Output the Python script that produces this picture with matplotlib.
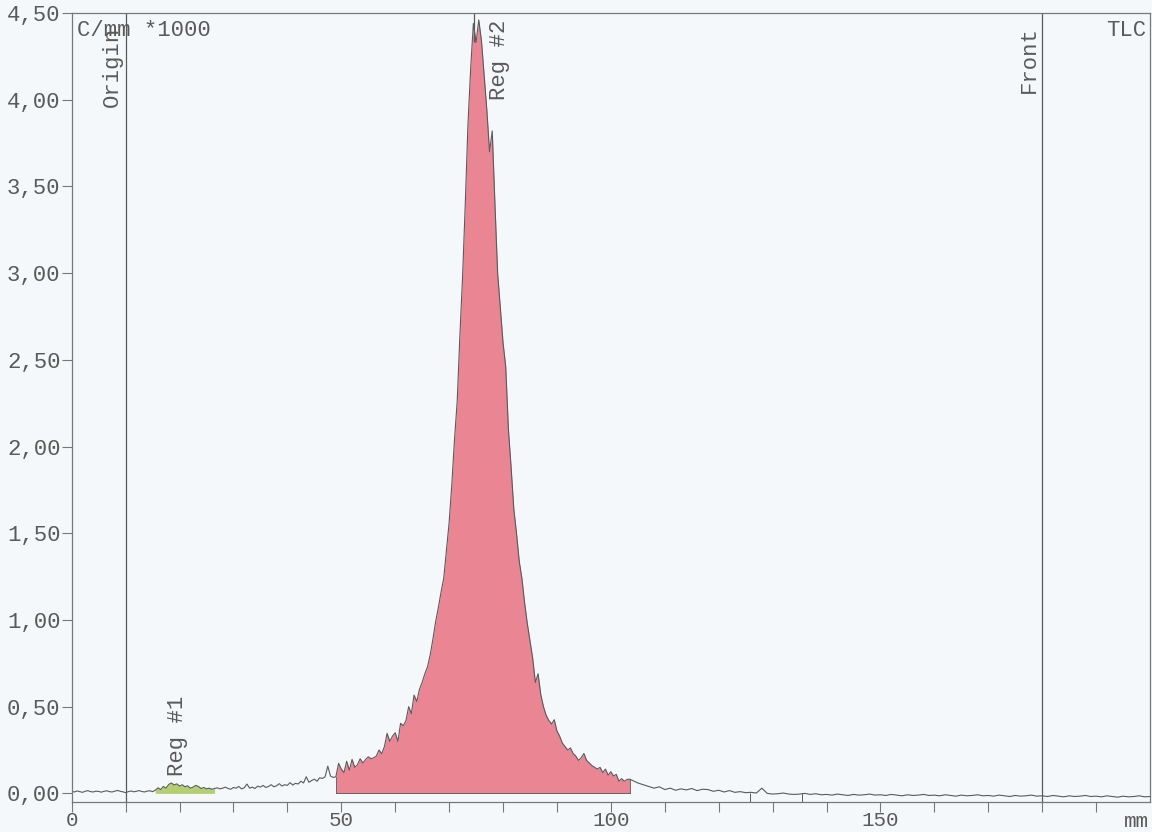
#!/usr/bin/env python3
"""
TLC radio-chromatogram scan: counts per mm along the plate, with two integrated
regions (Reg #1 near the origin, Reg #2 the main peak).
"""

import numpy as np
import matplotlib
matplotlib.use('Agg')
import matplotlib.pyplot as plt
from matplotlib.ticker import FuncFormatter, MultipleLocator, FixedLocator

# --- data (C/mm * 1000) ------------------------------------------------------
# segment 1: 0.0 .. 48.5 mm, 0.5 mm steps
seg1_start, seg1_step = 0.0, 0.5
seg1_vals = [
    0.012, 0.008, 0.014, 0.010, 0.006, 0.012, 0.016, 0.010, 0.008, 0.013,
    0.011, 0.007, 0.012, 0.015, 0.010, 0.008, 0.013, 0.017, 0.012, 0.009,
    0.004, 0.010, 0.014, 0.009, 0.012, 0.016, 0.011, 0.008, 0.013, 0.015,
    0.010,
    0.018, 0.032, 0.022, 0.040, 0.030, 0.052, 0.060, 0.048, 0.055, 0.042,
    0.050, 0.038, 0.044, 0.030, 0.036, 0.046, 0.040, 0.028, 0.034, 0.026,
    0.030, 0.024, 0.028,
    0.032, 0.026, 0.030, 0.036, 0.028, 0.024, 0.034, 0.030, 0.040, 0.026,
    0.032, 0.054, 0.030, 0.036, 0.028, 0.042, 0.036, 0.046, 0.034, 0.040,
    0.050, 0.038, 0.044, 0.056, 0.042, 0.050, 0.046, 0.062, 0.048, 0.058,
    0.054, 0.070, 0.060, 0.096, 0.064, 0.074, 0.082, 0.070, 0.090, 0.086,
    0.096, 0.157, 0.100, 0.092,
]

# segment 2: 49.0 .. 103.5 mm, 0.5 mm steps (main peak)
seg2_start, seg2_step = 49.0, 0.5
seg2_vals = [
    0.096, 0.173, 0.140, 0.120, 0.185, 0.134, 0.196, 0.150, 0.165, 0.200,
    0.175, 0.195, 0.211, 0.200, 0.205, 0.215, 0.250, 0.228, 0.270, 0.346,
    0.300, 0.330, 0.350, 0.300, 0.404, 0.390, 0.420, 0.500, 0.460, 0.567,
    0.530, 0.600, 0.640, 0.690, 0.730, 0.800, 0.890, 0.990, 1.070, 1.160,
    1.240, 1.400, 1.560, 1.780, 2.040, 2.260, 2.640, 2.980, 3.400, 3.860,
    4.180, 4.440, 4.330, 4.460, 4.340, 4.140, 3.940, 3.700, 3.820, 3.400,
    3.000, 2.800, 2.600, 2.460, 2.100, 1.880, 1.640, 1.500, 1.340, 1.240,
    1.100, 0.980, 0.880, 0.780, 0.640, 0.690, 0.570, 0.500, 0.450, 0.420,
    0.400, 0.425, 0.360, 0.330, 0.290, 0.270, 0.250, 0.262, 0.230, 0.215,
    0.190, 0.205, 0.230, 0.190, 0.175, 0.160, 0.150, 0.140, 0.150, 0.120,
    0.140, 0.105, 0.125, 0.100, 0.110, 0.070, 0.085, 0.070, 0.080, 0.082,
]

# segment 3: 104 .. 200 mm, 1 mm steps
seg3_start, seg3_step = 104.0, 1.0
seg3_vals = [
    0.075, 0.060, 0.050, 0.040, 0.030, 0.038, 0.022, 0.030, 0.018, 0.026,
    0.020, 0.028, 0.016, 0.024, 0.022, 0.012, 0.018, 0.008, 0.016, 0.006,
    0.010, 0.004, 0.006, 0.002, 0.030, 0.000, -0.004, -0.002, 0.002, -0.004,
    -0.006, -0.004, 0.000, -0.006, -0.002, -0.008,
    -0.006, -0.010, -0.004, -0.008, -0.012, -0.006, -0.010, -0.008, -0.004, -0.010,
    -0.008, -0.012, -0.006, -0.010, -0.014, -0.008, -0.012, -0.010, -0.006, -0.012,
    -0.010, -0.014, -0.008, -0.012, -0.016, -0.010, -0.014, -0.012, -0.008, -0.014,
    -0.012, -0.016, -0.010, -0.014, -0.018, -0.012, -0.016, -0.014, -0.010, -0.016,
    -0.014, -0.018, -0.012, -0.016, -0.020, -0.014, -0.018, -0.016, -0.012, -0.018,
    -0.016, -0.020, -0.014, -0.018, -0.022, -0.016, -0.020, -0.018, -0.014, -0.020,
    -0.018,
]

regions = {'Reg #1': (15.5, 26.5), 'Reg #2': (49.0, 103.5)}
origin_mm = 10.0
front_mm = 180.0
peak_mark_mm = 74.7
small_marks_mm = [125.8, 135.4]

x_ticks_major = [0, 50, 100, 150]
x_ticks_minor = [10, 20, 30, 40, 60, 70, 80, 90, 110, 120, 130, 140,
                 160, 170, 180, 190]


def build_trace():
    xs, ys = [], []
    for start, step, vals in [(seg1_start, seg1_step, seg1_vals),
                              (seg2_start, seg2_step, seg2_vals),
                              (seg3_start, seg3_step, seg3_vals)]:
        xs.append(start + step * np.arange(len(vals)))
        ys.append(np.array(vals))
    return np.concatenate(xs), np.concatenate(ys)


def main():
    x, y = build_trace()

    ink = '#5a5a5a'
    paper = '#f5f8fa'
    mono = ['Liberation Mono', 'DejaVu Sans Mono']

    fig = plt.figure(figsize=(11.52, 8.32), dpi=100, facecolor=paper)
    ax = fig.add_axes([71.7 / 1152, 1 - 801.7 / 832,
                       (1150 - 71.7) / 1152, (801.7 - 13) / 832])
    ax.set_facecolor(paper)

    # region fills
    lo, hi = regions['Reg #1']
    m = (x >= lo) & (x <= hi)
    ax.fill_between(x[m], 0, y[m], color='#b3cf72', lw=0)
    lo, hi = regions['Reg #2']
    m = (x >= lo) & (x <= hi)
    ax.fill_between(x[m], 0, y[m], color='#ea8594', lw=0)
    ax.plot([lo, hi], [0, 0], color=ink, lw=0.6)
    ax.plot([lo, lo], [0, y[m][0]], color=ink, lw=0.6)
    ax.plot([hi, hi], [0, y[m][-1]], color=ink, lw=0.6)

    ax.plot(x, y, color=ink, lw=0.8)

    # origin / front / peak markers
    ax.axvline(origin_mm, color=ink, lw=0.9)
    ax.axvline(front_mm, color=ink, lw=0.9)
    ax.vlines(peak_mark_mm, 4.33, 4.5, color=ink, lw=0.9)
    ax.vlines(small_marks_mm, -0.048, 0.0, color=ink, lw=0.7)

    ax.set_xlim(0, 200)
    ax.set_ylim(-0.048, 4.5)

    for s in ax.spines.values():
        s.set_color('#777777')
        s.set_linewidth(0.9)

    ax.xaxis.set_major_locator(FixedLocator(x_ticks_major))
    ax.xaxis.set_minor_locator(FixedLocator(x_ticks_minor))
    ax.yaxis.set_major_locator(MultipleLocator(0.5))
    ax.yaxis.set_major_formatter(FuncFormatter(lambda v, p: f'{v:.2f}'.replace('.', ',')))
    ax.tick_params(axis='both', which='both', direction='out', length=7,
                   width=0.8, color='#777777', labelcolor=ink, labelsize=16)
    ax.tick_params(axis='y', pad=1)
    ax.tick_params(axis='x', pad=0, labelsize=15)
    for lab in ax.get_xticklabels() + ax.get_yticklabels():
        lab.set_family(mono)

    txt = dict(color=ink, fontsize=16, family=mono)
    ax.text(1.0, 4.40, 'C/mm *1000', ha='left', va='center', **txt)
    ax.text(199.3, 4.40, 'TLC', ha='right', va='center', **txt)
    ax.text(7.5, 3.96, 'Origin', rotation=90, ha='center', va='bottom', **txt)
    ax.text(177.6, 4.04, 'Front', rotation=90, ha='center', va='bottom', **txt)
    ax.text(79.3, 4.00, 'Reg #2', rotation=90, ha='center', va='bottom', **txt)
    ax.text(19.6, 0.10, 'Reg #1', rotation=90, ha='center', va='bottom', **txt)
    ax.text(197.5, -0.165, 'mm', ha='center', va='center', clip_on=False,
            color=ink, fontsize=15, family=mono)

    fig.savefig('out.png', dpi=100, facecolor=paper)
    plt.close(fig)


if __name__ == '__main__':
    main()
